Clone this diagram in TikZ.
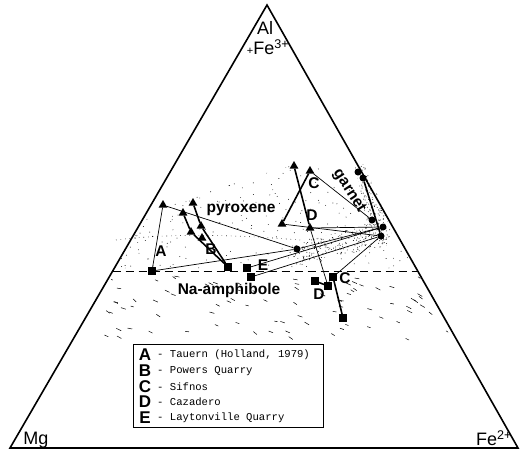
\documentclass[tikz,border=0pt]{standalone}
\usepackage{fontspec}
\setmainfont{Liberation Sans}
\setmonofont{Liberation Mono}
\usetikzlibrary{shapes.geometric,calc}

\tikzset{
  pxmark/.style={regular polygon, regular polygon sides=3, fill, inner sep=0pt, minimum size=10pt},
  ammark/.style={rectangle, fill, inner sep=0pt, minimum size=7.5pt},
  grtmark/.style={circle, fill, inner sep=0pt, minimum size=7pt},
  tie/.style={line width=0.7pt},
  zoning/.style={line width=1.6pt},
  lbl/.style={font=\fontsize{15.5}{15.5}\selectfont\bfseries, inner sep=0pt},
  field/.style={font=\fontsize{15.5}{15.5}\selectfont\bfseries, inner sep=0pt},
  apex/.style={font=\fontsize{18}{18}\selectfont, inner sep=0pt},
  legkey/.style={font=\fontsize{17}{17}\selectfont\bfseries, inner sep=0pt},
  legtxt/.style={font=\fontsize{10.6}{10.6}\selectfont\ttfamily, inner sep=0pt, anchor=west},
}

\begin{document}
\begin{tikzpicture}[x=1pt, y=-1pt]
    \useasboundingbox (0,0) rectangle (526,450);

    % Triangle
    \coordinate (Al) at (267,5);
    \coordinate (Mg) at (10,448);
    \coordinate (Fe) at (518,448);
    \draw[line width=1.6pt, line join=miter] (Al) -- (Mg) -- (Fe) -- cycle;

    % Corner labels
    \node[apex] (al) at (265,28) {Al};
    \node[apex] (fe3) at (268,47) {{\fontsize{11}{11}\selectfont+}Fe\textsuperscript{3+}};
    \node[apex] (mg) at (36,440) {Mg};
    \node[apex] (fe2) at (494,438) {Fe\textsuperscript{2+}};

    % Pyroxene / amphibole boundary
    \coordinate (dl) at ($(Al)!0.6005!(Mg)$);
    \coordinate (dr) at ($(Al)!0.6005!(Fe)$);
    \draw[line width=0.8pt, dash pattern=on 8pt off 5pt] (dl) -- (dr);

    % Stippled fields
    \pgfmathsetseed{42}
    \begin{scope}
      \clip (113,268) -- (125,245) -- (150,215) -- (200,190) -- (260,175)
            -- (300,163) -- (345,172) -- (385,225) -- (405,250) -- (414,268) -- cycle;
      \foreach \i in {1,...,320}
        \fill ({110+305*rnd},{160+110*rnd}) circle (0.45);
    \end{scope}
    \draw[loosely dotted, line width=0.6pt] (116,240) .. controls (180,232) and (250,236) .. (300,240);
    \begin{scope}
      \clip (355,167) -- (365,164) -- (392,232) -- (386,246) -- (376,241) -- (368,226) -- cycle;
      \foreach \i in {1,...,380}
        \fill ({354+40*rnd},{163+85*rnd}) circle (0.45);
    \end{scope}
    \begin{scope}
      \clip (292,246) -- (302,242) -- (378,222) -- (390,236) -- (386,246) -- (304,262) -- (292,257) -- cycle;
      \foreach \i in {1,...,420}
        \fill ({290+100*rnd},{220+44*rnd}) circle (0.45);
    \end{scope}
    \begin{scope}
      \clip (113,274) -- (418,274) -- (452,340) -- (90,340) -- cycle;
      \foreach \i in {1,...,85}
        \draw[line width=0.5pt] ({100+350*rnd},{276+64*rnd}) -- ++({3+2*rnd},{0.5+2.5*rnd});
    \end{scope}

    % Points
    \node[pxmark] (Apx) at (163,205) {};
    \node[ammark] (Aam) at (152,271) {};
    \node[grtmark] (Agt) at (297,249) {};

    \node[pxmark] (Bpx1) at (193,203) {};
    \node[pxmark] (Bpx2) at (201,226) {};
    \node[pxmark] (Bpx3) at (202,238) {};
    \node[pxmark] (Bpx4) at (183,213) {};
    \node[pxmark] (Bpx5) at (191,232) {};
    \node[ammark] (Bam) at (228,267) {};

    \node[pxmark] (Cpx1) at (310,171) {};
    \node[pxmark] (Cpx2) at (282,224) {};
    \node[ammark] (Cam1) at (333,277) {};
    \node[ammark] (Cam2) at (343,318) {};

    \node[pxmark] (Dpx1) at (294,166) {};
    \node[pxmark] (Dpx2) at (310,228) {};
    \node[ammark] (Dam1) at (315,281) {};
    \node[ammark] (Dam2) at (328,286) {};

    \node[ammark] (Eam1) at (247,268) {};
    \node[ammark] (Eam2) at (251,277) {};

    \node[grtmark] (G1) at (358,172) {};
    \node[grtmark] (G2) at (363,178) {};
    \node[grtmark] (G3) at (372,220) {};
    \node[grtmark] (G4) at (383,227) {};
    \node[grtmark] (G5) at (381,236) {};

    % Tie lines
    \draw[tie] (Apx) -- (Aam);
    \draw[tie] (Apx) -- (Agt);
    \draw[tie] (Aam) -- (Agt) -- (G4);
    \draw[tie] (Cpx1) -- (G3);
    \draw[tie] (Cpx2) -- (G5);
    \draw[tie] (Cam1) -- (G5);
    \draw[tie] (Dpx2) -- (G4);
    \draw[tie] (Dpx2) -- (Dam2);
    \draw[tie] (Eam1) -- (G4);
    \draw[tie] (Eam2) -- (G5);

    % Zoning trends
    \draw[zoning] (Bpx1) -- (Bpx2) -- (Bam);
    \draw[zoning] (Bpx4) -- (Bpx5) -- (Bam);
    \draw[zoning] (Cpx2) -- (Cpx1);
    \draw[zoning] (Cam1) -- (Cam2);
    \draw[zoning] (Dpx1) -- (Dpx2);
    \draw[zoning] (Dam1) -- (Dam2);
    \draw[zoning] (G1) -- (G2) -- (G5);

    % Labels
    \node[lbl] (labA) at (161,251) {A};
    \node[lbl] (labB) at (211,249) {B};
    \node[lbl] (labC1) at (314,183) {C};
    \node[lbl] (labD1) at (312,215) {D};
    \node[lbl] (labC2) at (345,278) {C};
    \node[lbl] (labD2) at (319,294) {D};
    \node[lbl] (labE) at (263,265) {E};
    \node[field] (pyx) at (241,210) {pyroxene};
    \node[field] (amph) at (229,290) {Na-amphibole};
    \node[field, rotate=-57] (grt) at (349,191) {garnet};

    % Legend
    \draw[line width=0.8pt] (133,344) rectangle (323,427);
    \node[legkey] (kA) at (145,355) {A};
    \node[legtxt] (tA) at (157,355) {- Tauern (Holland, 1979)};
    \node[legkey] (kB) at (145,371) {B};
    \node[legtxt] (tB) at (157,371) {- Powers Quarry};
    \node[legkey] (kC) at (145,387) {C};
    \node[legtxt] (tC) at (157,387) {- Sifnos};
    \node[legkey] (kD) at (145,402) {D};
    \node[legtxt] (tD) at (157,402) {- Cazadero};
    \node[legkey] (kE) at (145,418) {E};
    \node[legtxt] (tE) at (157,418) {- Laytonville Quarry};
\end{tikzpicture}
\end{document}
